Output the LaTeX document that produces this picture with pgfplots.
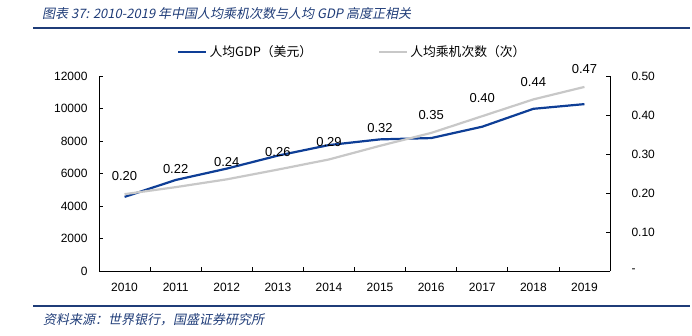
\documentclass[border=0pt]{standalone}
\usepackage{fontspec}
\setmainfont{Liberation Sans}
\newfontfamily\cjk{Noto Sans CJK SC}
\newfontfamily\cjkit{Noto Sans CJK SC}[FakeSlant=0.2]
\usepackage{pgfplots}
\pgfplotsset{compat=1.18}
\definecolor{gdpblue}{RGB}{14,62,150}
\definecolor{tripgray}{RGB}{200,200,200}
\definecolor{titleblue}{RGB}{31,60,120}
\begin{document}
\begin{tikzpicture}
\useasboundingbox (0,0) rectangle (692pt,336pt);
\node[anchor=west, inner sep=0, text=titleblue, font=\cjkit\fontsize{13}{15}\selectfont] at (42pt,322pt) {图表 37: 2010-2019 年中国人均乘机次数与人均 GDP 高度正相关};
\draw[titleblue, line width=1.4pt] (33pt,308pt) -- (690pt,308pt);
\draw[titleblue, line width=1.2pt] (33pt,30pt) -- (690pt,30pt);
\node[anchor=west, inner sep=0, text=titleblue, font=\cjkit\fontsize{13}{15}\selectfont] at (43pt,16pt) {资料来源：世界银行，国盛证券研究所};
\begin{axis}[
 at={(99pt,65pt)}, anchor=south west,
 width=511pt, height=195pt, scale only axis,
 xmin=2009.5, xmax=2019.5, ymin=0, ymax=12000,
 axis x line=bottom, axis y line=left,
 axis line style={-, line width=0.8pt, black},
 xtick={2009.5,2010.5,2011.5,2012.5,2013.5,2014.5,2015.5,2016.5,2017.5,2018.5,2019.5},
 x tick label as interval,
 xticklabels={2010,2011,2012,2013,2014,2015,2016,2017,2018,2019},
 ytick={0,2000,4000,6000,8000,10000,12000},
 scaled y ticks=false,
 tick align=inside, major tick length=4pt, tick style={black, line width=0.8pt},
 /pgf/number format/1000 sep={}, /pgf/number format/assume math mode=true,
 tick label style={font=\fontsize{12}{14}\selectfont},
 yticklabel style={xshift=-8pt},
 xticklabel style={yshift=-9pt},
 legend style={draw=none, fill=none, legend columns=2, at={(0.153,1.123)}, anchor=west, inner sep=0pt,
   /tikz/every even column/.append style={column sep=64pt}, font=\cjk\fontsize{12.8}{15}\selectfont},
 legend image code/.code={\draw[#1] (0pt,0pt) -- (28pt,0pt);},
 legend cell align=left,
]
\addplot[gdpblue, line width=2.2pt] coordinates {
 (2010,4560) (2011,5600) (2012,6300) (2013,7100) (2014,7750)
 (2015,8100) (2016,8180) (2017,8880) (2018,9980) (2019,10270)};
\addlegendentry{人均GDP（美元）}
\addlegendimage{tripgray, line width=2.2pt}
\addlegendentry{人均乘机次数（次）}
\end{axis}
\begin{axis}[
 at={(99pt,65pt)}, anchor=south west,
 width=511pt, height=195pt, scale only axis,
 xmin=2009.5, xmax=2019.5, ymin=0, ymax=0.5,
 axis x line=none, axis y line=right,
 axis line style={-, line width=0.8pt, black},
 ytick={0,0.1,0.2,0.3,0.4,0.5},
 yticklabels={-,0.10,0.20,0.30,0.40,0.50},
 tick align=inside, major tick length=4pt, tick style={black, line width=0.8pt},
 tick label style={font=\fontsize{12}{14}\selectfont},
 yticklabel style={xshift=18pt},
 nodes near coords, point meta=explicit symbolic,
 nodes near coords style={font=\fontsize{13}{15}\selectfont, anchor=south, inner sep=0pt, yshift=12pt, text=black},
]
\addplot[tripgray, line width=2.2pt] coordinates {
 (2010,0.197)[0.20] (2011,0.215)[0.22] (2012,0.235)[0.24] (2013,0.26)[0.26] (2014,0.286)[0.29]
 (2015,0.321)[0.32] (2016,0.354)[0.35] (2017,0.397)[0.40] (2018,0.44)[0.44] (2019,0.472)[0.47]};
\end{axis}
\end{tikzpicture}
\end{document}
